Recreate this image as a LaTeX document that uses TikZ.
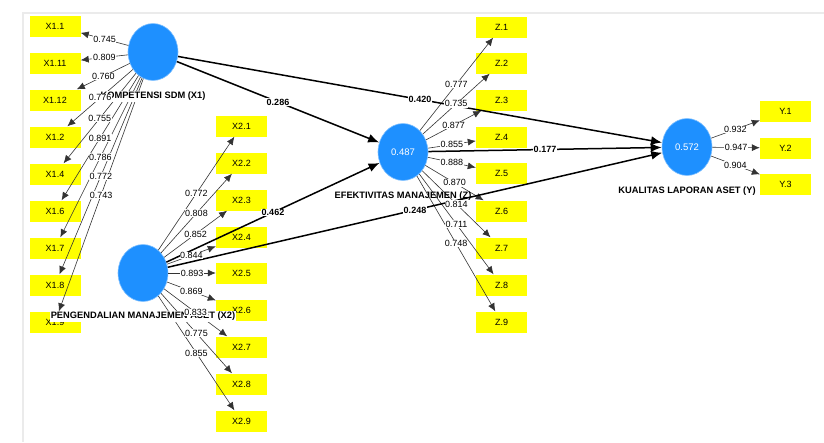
\documentclass[tikz,border=0pt]{standalone}
\usepackage{fontspec}
\setmainfont{Liberation Sans}
\usetikzlibrary{arrows.meta,positioning,shapes.geometric}
\definecolor{lvblue}{RGB}{30,144,255}
\definecolor{indyellow}{RGB}{255,255,0}
\tikzset{
  latent/.style={ellipse, fill=lvblue, draw=lvblue!55, line width=0.6pt, minimum width=50pt, minimum height=57pt, inner sep=0pt, text=white, font=\fontsize{9.5}{10}\selectfont},
  ind/.style={rectangle, fill=indyellow, minimum width=51pt, minimum height=21pt, inner sep=0pt, font=\fontsize{9}{10}\selectfont},
  lvname/.style={fill=white, inner sep=1pt, font=\fontsize{9.3}{10}\selectfont\bfseries},
  load/.style={-{Latex[length=8pt,width=7pt]}, line width=0.6pt, draw=black!80},
  struct/.style={-{Latex[length=11pt,width=9pt]}, line width=1.5pt},
  val/.style={fill=white, inner sep=0.6pt, font=\fontsize{9}{9}\selectfont},
  coef/.style={fill=white, inner sep=0.6pt, font=\fontsize{9}{9}\selectfont\bfseries}
}
\def\xonelist{x1-1/0.745, x1-11/0.809, x1-12/0.760, x1-2/0.776, x1-4/0.755, x1-6/0.891, x1-7/0.786, x1-8/0.772, x1-9/0.743}
\def\xtwolist{x2-1/0.772, x2-2/0.808, x2-3/0.852, x2-4/0.844, x2-5/0.893, x2-6/0.869, x2-7/0.833, x2-8/0.775, x2-9/0.855}
\def\zlist{z-1/0.777, z-2/0.735, z-3/0.877, z-4/0.855, z-5/0.888, z-6/0.870, z-7/0.814, z-8/0.711, z-9/0.748}
\def\ylist{y-1/0.932, y-2/0.947, y-3/0.904}
\begin{document}
\begin{tikzpicture}[x=1pt,y=-1pt]
\useasboundingbox (0,0) rectangle (824,442);
\draw[black!8, line width=1.5pt] (23,442) -- (23,13) -- (824,13);

\foreach \n/\yy in {1/26, 11/63, 12/100, 2/137, 4/174, 6/211, 7/248, 8/285, 9/322}
  \node[ind] (x1-\n) at (55,\yy) {X1.\n};
\foreach \n/\yy in {1/126, 2/163, 3/200, 4/237, 5/273, 6/310, 7/347, 8/384, 9/421}
  \node[ind] (x2-\n) at (241.5,\yy) {X2.\n};
\foreach \n/\yy in {1/27, 2/63, 3/100, 4/137, 5/173, 6/211, 7/248, 8/285, 9/322}
  \node[ind] (z-\n) at (501.5,\yy) {Z.\n};
\foreach \n/\yy in {1/111, 2/148, 3/184}
  \node[ind] (y-\n) at (785.5,\yy) {Y.\n};

\node[latent] (ks) at (153,52) {};
\node[latent] (pm) at (143,273) {};
\node[latent] (ef) at (403,152) {0.487};
\node[latent] (kl) at (687,147) {0.572};

\foreach \t/\v in \xonelist \draw[load] (ks) -- (\t);
\foreach \t/\v in \xtwolist \draw[load] (pm) -- (\t);
\foreach \t/\v in \zlist \draw[load] (ef) -- (\t);
\foreach \t/\v in \ylist \draw[load] (kl) -- (\t);
\draw[struct] (ks) -- (ef);
\draw[struct] (ks) -- (kl);
\draw[struct] (pm) -- (ef);
\draw[struct] (pm) -- (kl);
\draw[struct] (ef) -- (kl);

\node[lvname, below=10pt of ks] (ksname) {KOMPETENSI SDM (X1)};
\node[lvname, below=9pt of pm] (pmname) {PENGENDALIAN MANAJEMEN ASET (X2)};
\node[lvname, fill=none, below=10pt of ef] (efname) {EFEKTIVITAS MANAJEMEN (Z)};
\node[lvname, below=10pt of kl] (klname) {KUALITAS LAPORAN ASET (Y)};

\foreach \t/\v in \xonelist \path (ks) -- node[val] {\v} (\t);
\foreach \t/\v in \xtwolist \path (pm) -- node[val] {\v} (\t);
\foreach \t/\v in \zlist \path (ef) -- node[val] {\v} (\t);
\foreach \t/\v in \ylist \path (kl) -- node[val] {\v} (\t);
\path (ks) -- node[coef] {0.286} (ef);
\path (ks) -- node[coef] {0.420} (kl);
\path (pm) -- node[coef] {0.462} (ef);
\path (pm) -- node[coef] {0.248} (kl);
\path (ef) -- node[coef] {0.177} (kl);
\end{tikzpicture}
\end{document}
